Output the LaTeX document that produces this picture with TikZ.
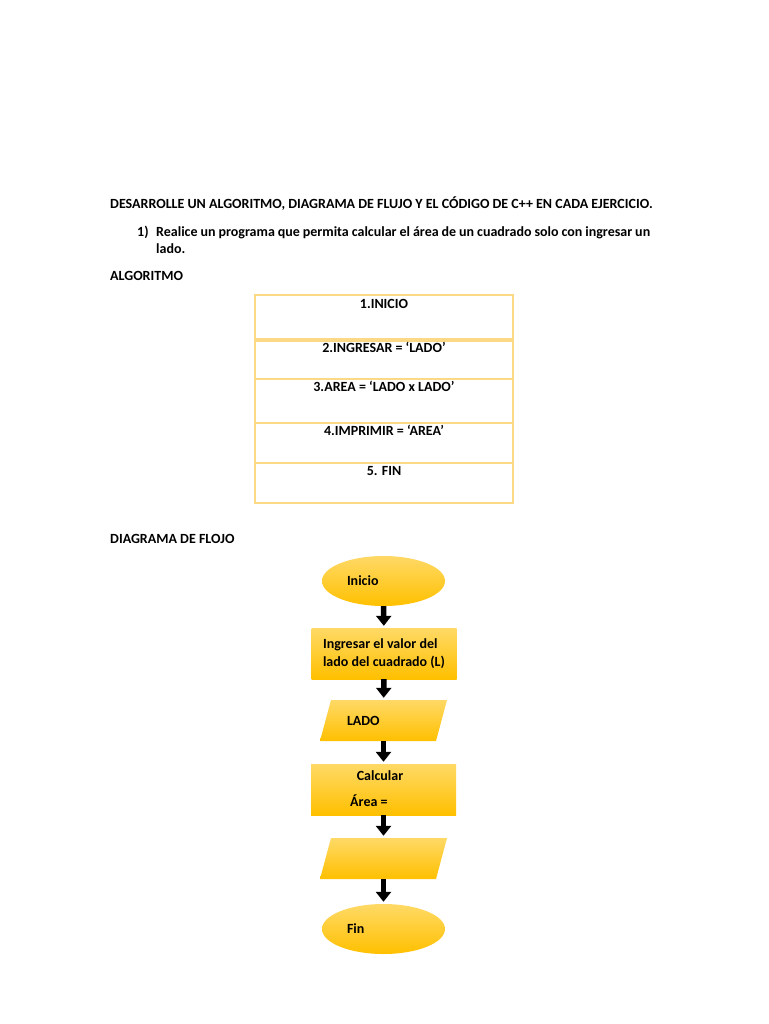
\documentclass[tikz,border=0pt]{standalone}
\usepackage{fontspec}
\setmainfont{Carlito}
\usetikzlibrary{shapes.geometric,arrows.meta}
\definecolor{gold}{HTML}{FFC000}
\definecolor{goldlight}{HTML}{FFD966}
\definecolor{tline}{HTML}{FCD985}
\begin{document}
\begin{tikzpicture}[x=1pt,y=-1pt,
  txt/.style={inner sep=0pt, font=\fontsize{14}{18}\selectfont\bfseries},
  row/.style={draw=tline, line width=1.1pt, minimum width=258pt, inner sep=0pt},
  goldfill/.style={top color=goldlight, bottom color=gold, draw=none, inner sep=0pt, font=\fontsize{14}{18}\selectfont\bfseries},
  term/.style={goldfill, ellipse, minimum width=123pt, minimum height=50pt},
  proc/.style={goldfill, rectangle, minimum width=145pt, minimum height=51pt},
  io/.style={rectangle, inner sep=0pt, minimum width=127pt, minimum height=41pt, font=\fontsize{14}{18}\selectfont\bfseries},
  iofill/.style={top color=goldlight, bottom color=gold, draw=none},
  blockarrow/.style={draw=black, line width=5.5pt, -{Triangle[width=15pt,length=10pt]}, shorten >=2pt}
]
\useasboundingbox[fill=white] (0,0) rectangle (768,1024);

% texts
\node[txt, anchor=base west] (head) at (110,208.5) {DESARROLLE UN ALGORITMO, DIAGRAMA DE FLUJO Y EL CÓDIGO DE C++ EN CADA EJERCICIO.};
\node[txt, anchor=base west] (num) at (137,236.5) {1)};
\node[txt, anchor=base west] (l1) at (156,236.5) {\makebox[494pt][s]{Realice un programa que permita calcular el área de un cuadrado solo con ingresar un}};
\node[txt, anchor=base west] (l2) at (156,253.5) {lado.};
\node[txt, anchor=base west] (alg) at (110,280.5) {ALGORITMO};

% table
\node[row, minimum height=44pt] (r1) at (384,317) {};
\node[row, minimum height=38pt] (r2) at (384,360) {};
\node[row, minimum height=44pt] (r3) at (384,401) {};
\node[row, minimum height=40pt] (r4) at (384,443) {};
\node[row, minimum height=40pt] (r5) at (384,483) {};
\node[txt, anchor=base] (t1) at (384,308.5) {1.INICIO};
\node[txt, anchor=base] (t2) at (384,352.5) {2.INGRESAR = ‘LADO’};
\node[txt, anchor=base] (t3) at (384,391.5) {3.AREA = ‘LADO x LADO’};
\node[txt, anchor=base] (t4) at (384,435.5) {4.IMPRIMIR = ‘AREA’};
\node[txt, anchor=base] (t5) at (384,475.5) {5. FIN};

\node[txt, anchor=base west] (diag) at (110,543.5) {DIAGRAMA DE FLOJO};

% parallelogram fills (drawn under their nodes)
\shade[iofill] (320,741) -- (436,741) -- (447,700) -- (331,700) -- cycle;
\shade[iofill] (320,879) -- (436,879) -- (447,838) -- (331,838) -- cycle;

% flowchart
\node[term] (inicio) at (383.5,581) {\makebox[73pt][l]{Inicio}};
\node[proc, align=left] (ingresar) at (384,653.5) {Ingresar el valor del\\lado del cuadrado (L)};
\node[io] (lado) at (383.5,720.5) {\makebox[73pt][l]{LADO}};
\node[proc] (calc) at (383.5,789.5) {};
\node[txt, anchor=base] (calct) at (380,780.5) {Calcular};
\node[txt, anchor=base west] (areat) at (350,806.5) {Área =};
\node[io] (out) at (383.5,858.5) {};
\node[term] (fin) at (383.5,929) {\makebox[73pt][l]{Fin}};

\draw[blockarrow] (inicio) -- (ingresar);
\draw[blockarrow] (ingresar) -- (lado);
\draw[blockarrow] (lado) -- (calc);
\draw[blockarrow] (calc) -- (out);
\draw[blockarrow] (out) -- (fin);
\end{tikzpicture}
\end{document}
